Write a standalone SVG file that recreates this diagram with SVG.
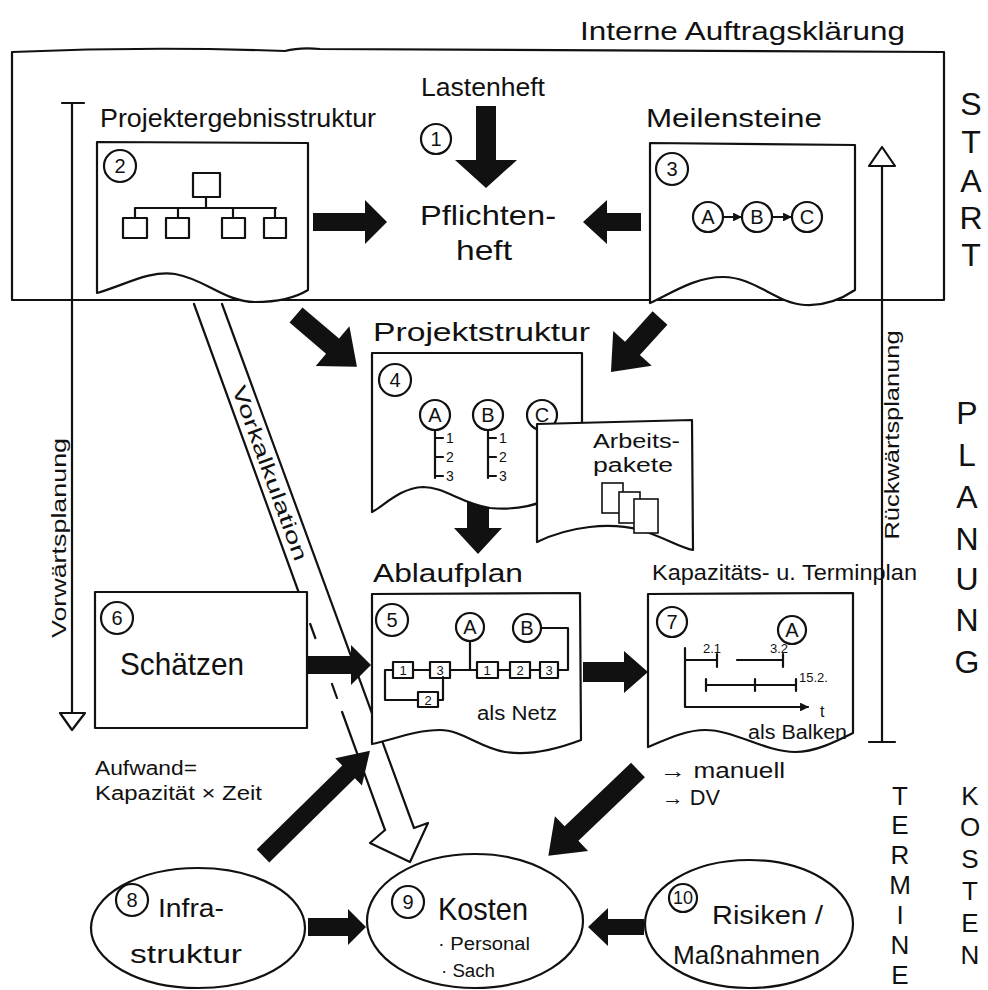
<svg xmlns="http://www.w3.org/2000/svg" width="988" height="990" viewBox="0 0 988 990">
<defs>
<style>
.ln{fill:none;stroke:#111;stroke-width:2.2;stroke-linecap:round;stroke-linejoin:round}
.pg{fill:#fff;stroke:#111;stroke-width:2.2;stroke-linejoin:round}
.thin{fill:#fff;stroke:#111;stroke-width:1.6}
.blk{fill:#111}
text{font-family:"Liberation Sans",Arial,sans-serif;fill:#111}
.h{font-size:26px}
.m{font-size:20px}
.s{font-size:13px}
.num{font-size:20px;text-anchor:middle}
.big{font-size:32px;text-anchor:middle}
.mid{font-size:26px;text-anchor:middle}
</style>
<marker id="sm" viewBox="0 0 10 10" refX="9" refY="5" markerWidth="4" markerHeight="4" orient="auto"><path d="M0,0 L10,5 L0,10 z" fill="#111"/></marker>
</defs>
<rect width="988" height="990" fill="#fff"/>

<g id="connectors">
  <!-- Vorkalkulation hollow arrow -->
  <path d="M194,304 L385,830 L370,843 L410,862 L428,823 L414,828 L222,304 Z" fill="#fff"/>
  <path class="ln" d="M222,304 L414,828 L428,823 L410,862 L370,843 L385,830"/>
  <path class="ln" d="M194,304 L298.6,592 M310.2,624 L315.3,638 M332,684 L337,698 M342.1,712 L385,830"/>
  <text class="m" transform="translate(270,473) rotate(69.95)" x="0" y="7" text-anchor="middle" textLength="185" lengthAdjust="spacingAndGlyphs">Vorkalkulation</text>
  <!-- Vorwaertsplanung -->
  <path class="ln" d="M72,103 L72,713 M62,103 L84,103"/>
  <polygon class="pg" points="60,713 85,713 72,730"/>
  <text class="m" transform="translate(66,538) rotate(-90)" text-anchor="middle" textLength="200" lengthAdjust="spacingAndGlyphs">Vorwärtsplanung</text>
  <!-- Rueckwaertsplanung -->
  <path class="ln" d="M882,166 L882,742 M869,742 L895,742"/>
  <polygon class="pg" points="869,166 895,166 882,147"/>
  <text class="m" transform="translate(899,435) rotate(-90)" text-anchor="middle" textLength="209" lengthAdjust="spacingAndGlyphs">Rückwärtsplanung</text>
  <!-- black arrows -->
  <path class="blk" transform="translate(486,106) rotate(90)" d="M0,-10 L54,-10 L54,-31 L82,0 L54,31 L54,10 L0,10 Z"/>
  <path class="blk" transform="translate(313,222)" d="M0,-9 L52,-9 L52,-22 L74,0 L52,22 L52,9 L0,9 Z"/>
  <path class="blk" transform="translate(641,222) rotate(180)" d="M0,-9 L34,-9 L34,-22 L58,0 L34,22 L34,9 L0,9 Z"/>
  <path class="blk" transform="translate(296,315) rotate(40.4)" d="M0,-10 L48,-10 L48,-26 L80,0 L48,26 L48,10 L0,10 Z"/>
  <path class="blk" transform="translate(660,318) rotate(132.2)" d="M0,-10 L41,-10 L41,-26 L73,0 L41,26 L41,10 L0,10 Z"/>
  <path class="blk" transform="translate(478,496) rotate(90)" d="M0,-11 L32,-11 L32,-24 L58,0 L32,24 L32,11 L0,11 Z"/>
  <path class="blk" transform="translate(307,665)" d="M0,-9 L44,-9 L44,-20 L64,0 L44,20 L44,9 L0,9 Z"/>
  <path class="blk" transform="translate(583,672)" d="M0,-10 L41,-10 L41,-21 L65,0 L41,21 L41,10 L0,10 Z"/>
  <path class="blk" transform="translate(263,856) rotate(-44.5)" d="M0,-9 L120,-9 L120,-19 L150,0 L120,19 L120,9 L0,9 Z"/>
  <path class="blk" transform="translate(638,770) rotate(136.3)" d="M0,-10 L92,-10 L92,-24 L124,0 L92,24 L92,10 L0,10 Z"/>
  <path class="blk" transform="translate(308,927)" d="M0,-9 L40,-9 L40,-18 L58,0 L40,18 L40,9 L0,9 Z"/>
  <path class="blk" transform="translate(644,927) rotate(180)" d="M0,-8 L36,-8 L36,-19 L56,0 L36,19 L36,8 L0,8 Z"/>
</g>

<g id="auftrag">
  <text class="h" x="580" y="40" textLength="325" lengthAdjust="spacingAndGlyphs">Interne Auftragsklärung</text>
  <path class="ln" d="M12,52 Q150,46 285,51 Q300,47 320,49 Q600,49 944,52 L944,300 L12,300 Z"/>
  <text class="h" x="421" y="96" textLength="124" lengthAdjust="spacingAndGlyphs">Lastenheft</text>
  <circle class="ln" cx="436" cy="139" r="15"/>
  <text class="num" x="436" y="146">1</text>
  <text style="font-size:28px" x="420" y="225" textLength="136" lengthAdjust="spacingAndGlyphs">Pflichten-</text>
  <text style="font-size:28px" x="456" y="260" textLength="56" lengthAdjust="spacingAndGlyphs">heft</text>
</g>

<g id="n2">
  <text class="h" x="100" y="127" textLength="276" lengthAdjust="spacingAndGlyphs">Projektergebnisstruktur</text>
  <path class="pg" d="M97,142 L308,143 L308,290 C295,298 275,302 255,302 C225,302 205,279 175,274 C150,270 125,285 97,293 Z"/>
  <circle class="ln" cx="120" cy="166" r="16"/>
  <text class="num" x="120" y="173">2</text>
  <rect class="ln" x="193" y="173" width="27" height="24"/>
  <path class="ln" d="M206,197 L206,208 M135,208 L276,208 M135,208 L135,218 M178,208 L178,218 M233,208 L233,218 M275,208 L275,218"/>
  <rect class="ln" x="123" y="218" width="24" height="20"/>
  <rect class="ln" x="166" y="218" width="23" height="20"/>
  <rect class="ln" x="222" y="218" width="23" height="20"/>
  <rect class="ln" x="264" y="218" width="22" height="20"/>
</g>

<g id="n3">
  <text class="h" x="646" y="127" textLength="176" lengthAdjust="spacingAndGlyphs">Meilensteine</text>
  <path class="pg" d="M650,143 L855,145 L855,290 C840,300 822,306 805,305 C775,303 755,277 723,277 C695,277 672,293 650,303 Z"/>
  <circle class="ln" cx="672" cy="169" r="16"/>
  <text class="num" x="672" y="176">3</text>
  <circle class="ln" cx="708" cy="217" r="15"/>
  <circle class="ln" cx="757" cy="217" r="15"/>
  <circle class="ln" cx="807" cy="217" r="15"/>
  <text class="m" x="708" y="224" text-anchor="middle">A</text>
  <text class="m" x="757" y="224" text-anchor="middle">B</text>
  <text class="m" x="807" y="224" text-anchor="middle">C</text>
  <path class="ln" d="M723,217 L741,217" marker-end="url(#sm)"/>
  <path class="ln" d="M772,217 L791,217" marker-end="url(#sm)"/>
</g>

<g id="n4">
  <text class="h" x="373" y="341" textLength="217" lengthAdjust="spacingAndGlyphs">Projektstruktur</text>
  <path class="pg" d="M372,353 L582,353 L582,470 C565,495 535,512 490,508 C460,503 445,487 423,487 C400,488 385,505 372,512 Z"/>
  <circle class="ln" cx="395" cy="380" r="16"/>
  <text class="num" x="395" y="387">4</text>
  <circle class="ln" cx="435" cy="415" r="15"/>
  <circle class="ln" cx="488" cy="415" r="15"/>
  <circle class="ln" cx="542" cy="415" r="15"/>
  <text class="m" x="435" y="422" text-anchor="middle">A</text>
  <text class="m" x="488" y="422" text-anchor="middle">B</text>
  <text class="m" x="542" y="422" text-anchor="middle">C</text>
  <path class="ln" d="M435,430 L435,478 M435,438 L443,438 M435,457 L443,457 M435,476 L443,476"/>
  <path class="ln" d="M488,430 L488,478 M488,438 L496,438 M488,457 L496,457 M488,476 L496,476"/>
  <path class="ln" d="M542,430 L542,478 M542,438 L550,438 M542,457 L550,457 M542,476 L550,476"/>
  <g style="font-size:14px">
    <text x="446" y="443">1</text><text x="446" y="462">2</text><text x="446" y="481">3</text>
    <text x="499" y="443">1</text><text x="499" y="462">2</text><text x="499" y="481">3</text>
    <text x="553" y="443">1</text><text x="553" y="462">2</text><text x="553" y="481">3</text>
  </g>
</g>

<g id="arbeitspakete">
  <path class="pg" d="M537,424 L692,420 L693,550 C680,548 662,536 640,530 C610,522 570,526 537,542 Z"/>
  <text class="m" x="593" y="448" textLength="87" lengthAdjust="spacingAndGlyphs">Arbeits-</text>
  <text class="m" x="593" y="472" textLength="80" lengthAdjust="spacingAndGlyphs">pakete</text>
  <rect class="thin" x="602" y="483" width="21" height="30"/>
  <rect class="thin" x="619" y="492" width="21" height="31"/>
  <rect class="thin" x="634" y="499" width="24" height="34"/>
</g>

<g id="n5">
  <text class="h" x="373" y="582" textLength="150" lengthAdjust="spacingAndGlyphs">Ablaufplan</text>
  <path class="pg" d="M372,594 L580,593 L581,740 C560,748 530,756 505,752 C480,748 462,730 440,730 C415,730 392,740 372,744 Z"/>
  <circle class="ln" cx="392" cy="620" r="16"/>
  <text class="num" x="392" y="627">5</text>
  <circle class="ln" cx="470" cy="627" r="14"/>
  <circle class="ln" cx="527" cy="628" r="14"/>
  <text class="m" x="470" y="634" text-anchor="middle">A</text>
  <text class="m" x="527" y="635" text-anchor="middle">B</text>
  <path class="ln" d="M413,670 L430,670 M450,670 L477,670 M470,641 L470,670 M498,670 L510,670 M530,670 L540,670 M558,670 L568,670 L568,628 L541,628"/>
  <path class="ln" d="M393,670 L385,670 L385,700 L418,700 M443,677 L443,700 L438,700"/>
  <g style="font-size:13px" text-anchor="middle">
    <rect class="ln" x="393" y="662" width="20" height="16"/><text x="403" y="675">1</text>
    <rect class="ln" x="430" y="662" width="20" height="16"/><text x="440" y="675">3</text>
    <rect class="ln" x="477" y="662" width="21" height="16"/><text x="487" y="675">1</text>
    <rect class="ln" x="510" y="662" width="20" height="16"/><text x="520" y="675">2</text>
    <rect class="ln" x="540" y="662" width="18" height="16"/><text x="549" y="675">3</text>
    <rect class="ln" x="418" y="692" width="20" height="15"/><text x="428" y="705">2</text>
  </g>
  <text class="m" x="477" y="720" textLength="80" lengthAdjust="spacingAndGlyphs">als Netz</text>
</g>

<g id="n6">
  <rect class="pg" x="95" y="592" width="212" height="136"/>
  <circle class="ln" cx="117" cy="618" r="16"/>
  <text class="num" x="117" y="625">6</text>
  <text style="font-size:32px" x="120" y="675" textLength="124" lengthAdjust="spacingAndGlyphs">Schätzen</text>
  <text class="m" x="95" y="775" textLength="102" lengthAdjust="spacingAndGlyphs">Aufwand=</text>
  <text class="m" x="95" y="800" textLength="167" lengthAdjust="spacingAndGlyphs">Kapazität × Zeit</text>
</g>

<g id="n7">
  <text style="font-size:22px" x="652" y="580" textLength="265" lengthAdjust="spacingAndGlyphs">Kapazitäts- u. Terminplan</text>
  <path class="pg" d="M648,594 L853,593 L853,733 C835,742 815,752 795,752 C765,752 735,730 705,730 C685,730 665,740 648,747 Z"/>
  <circle class="ln" cx="672" cy="622" r="15"/>
  <text class="num" x="672" y="629">7</text>
  <circle class="ln" cx="792" cy="630" r="14"/>
  <text class="m" x="792" y="637" text-anchor="middle">A</text>
  <path class="ln" d="M685,648 L685,707 L808,707" marker-end="url(#sm)"/>
  <path class="ln" d="M685,660 L717,660 M717,654 L717,667 M737,660 L783,660 M783,654 L783,667"/>
  <path class="ln" d="M706,685 L796,685 M706,679 L706,691 M755,679 L755,691 M796,679 L796,691"/>
  <text class="s" x="703" y="653">2.1</text>
  <text class="s" x="770" y="653">3.2</text>
  <text class="s" x="799" y="682">15.2.</text>
  <text style="font-size:16px" x="820" y="717">t</text>
  <text class="m" x="748" y="739" textLength="99" lengthAdjust="spacingAndGlyphs">als Balken</text>
  <text style="font-size:22px" x="660" y="778" textLength="125" lengthAdjust="spacingAndGlyphs">→ manuell</text>
  <text style="font-size:22px" x="662" y="805" textLength="58" lengthAdjust="spacingAndGlyphs">→ DV</text>
</g>

<g id="n8">
  <ellipse class="pg" cx="198" cy="928" rx="107" ry="60"/>
  <circle class="ln" cx="132" cy="900" r="16"/>
  <text class="num" x="132" y="907">8</text>
  <text class="h" x="158" y="917" textLength="66" lengthAdjust="spacingAndGlyphs">Infra-</text>
  <text class="h" x="130" y="963" textLength="112" lengthAdjust="spacingAndGlyphs">struktur</text>
</g>

<g id="n9">
  <ellipse class="pg" cx="475" cy="921" rx="108" ry="67"/>
  <circle class="ln" cx="408" cy="902" r="16"/>
  <text class="num" x="408" y="909">9</text>
  <text style="font-size:32px" x="438" y="920" textLength="90" lengthAdjust="spacingAndGlyphs">Kosten</text>
  <text style="font-size:18px" x="438" y="950" textLength="92" lengthAdjust="spacingAndGlyphs">· Personal</text>
  <text style="font-size:18px" x="441" y="977" textLength="54" lengthAdjust="spacingAndGlyphs">· Sach</text>
</g>

<g id="n10">
  <ellipse class="pg" cx="749" cy="924" rx="104" ry="64"/>
  <circle class="ln" cx="683" cy="898" r="14"/>
  <text class="num" style="font-size:18px" x="683" y="904">10</text>
  <text class="h" x="712" y="924" textLength="111" lengthAdjust="spacingAndGlyphs">Risiken /</text>
  <text class="h" x="673" y="964" textLength="147" lengthAdjust="spacingAndGlyphs">Maßnahmen</text>
</g>

<g id="phases">
  <text class="big"><tspan x="971" y="115">S</tspan><tspan x="971" y="153">T</tspan><tspan x="971" y="192">A</tspan><tspan x="971" y="229">R</tspan><tspan x="971" y="266">T</tspan></text>
  <text class="big"><tspan x="967" y="424">P</tspan><tspan x="967" y="466">L</tspan><tspan x="967" y="508">A</tspan><tspan x="967" y="550">N</tspan><tspan x="967" y="590">U</tspan><tspan x="967" y="631">N</tspan><tspan x="967" y="673">G</tspan></text>
  <text class="mid"><tspan x="900" y="805">T</tspan><tspan x="900" y="834">E</tspan><tspan x="900" y="864">R</tspan><tspan x="900" y="894">M</tspan><tspan x="900" y="924">I</tspan><tspan x="900" y="954">N</tspan><tspan x="900" y="984">E</tspan></text>
  <text class="mid"><tspan x="970" y="805">K</tspan><tspan x="970" y="836">O</tspan><tspan x="970" y="868">S</tspan><tspan x="970" y="900">T</tspan><tspan x="970" y="932">E</tspan><tspan x="970" y="964">N</tspan></text>
</g>
</svg>
